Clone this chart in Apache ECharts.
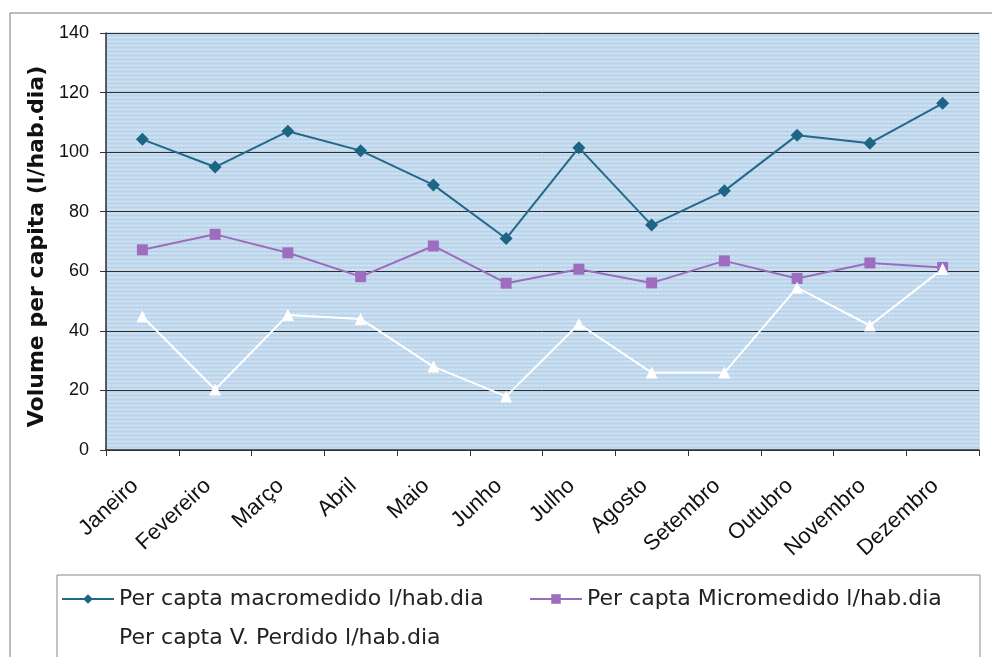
<!DOCTYPE html>
<html>
<head>
<meta charset="utf-8">
<script src="https://cdn.jsdelivr.net/npm/echarts@6/dist/echarts.min.js"></script>
<style>
html,body{margin:0;padding:0;background:#fff;}
#chart{width:992px;height:657px;}
</style>
</head>
<body>
<div id="chart"></div>
<script>
const months = ['Janeiro','Fevereiro','Março','Abril','Maio','Junho','Julho','Agosto','Setembro','Outubro','Novembro','Dezembro'];
const macromedido = [104.3, 95, 107, 100.5, 89, 71, 101.5, 75.5, 87, 105.7, 103, 116.4];
const micromedido = [67.2, 72.4, 66.2, 58.2, 68.5, 56, 60.7, 56.1, 63.5, 57.6, 62.8, 61.3];
const perdido = [44.8, 20.3, 45.3, 44, 28, 18, 42.3, 26, 26, 54.5, 41.8, 60.8];
const seriesNames = ['Per capta macromedido l/hab.dia','Per capta Micromedido l/hab.dia','Per capta V. Perdido l/hab.dia'];

// faint horizontal hatching for the plot background
const tile = document.createElement('canvas');
tile.width = 8; tile.height = 4;
const tc = tile.getContext('2d');
tc.fillStyle = '#c2d9ee';
tc.fillRect(0,0,8,4);
tc.fillStyle = '#d3e4f3';
tc.fillRect(0,1,3,1);
tc.fillRect(4,1,3,1);
tc.fillStyle = '#b8d2ea';
tc.fillRect(0,3,8,1);

const chart = echarts.init(document.getElementById('chart'), null, {renderer:'canvas'});
const font = '"Liberation Sans", Arial, sans-serif';
const wide = '"DejaVu Sans", sans-serif';
const legendText = {fontSize:22, color:'#222', fontFamily:wide};

chart.setOption({
  animation: false,
  textStyle: {fontFamily: font},
  graphic: [
    {type:'polyline', shape:{points:[[10,657],[10,13],[992,13]]}, style:{stroke:'#777', lineWidth:1, fill:null}},
    {type:'rect', shape:{x:57, y:575, width:923, height:100}, style:{stroke:'#888', lineWidth:1, fill:'#fff'}, z:-1}
  ],
  grid: {left:106, right:13, top:33, bottom:207, show:true,
         backgroundColor:{image:tile, repeat:'repeat'}, borderColor:'#a9c9e6', borderWidth:1},
  legend: [
    {data:[seriesNames[0]], left:56, top:583, itemWidth:52, itemHeight:12, itemGap:4, textStyle:legendText},
    {data:[seriesNames[1]], left:524, top:583, itemWidth:52, itemHeight:12, itemGap:4, textStyle:legendText},
    {data:[seriesNames[2]], left:56, top:622, itemWidth:52, itemHeight:12, itemGap:4, textStyle:legendText}
  ],
  xAxis: {
    type:'category', data:months, boundaryGap:true,
    axisLine:{show:true, lineStyle:{color:'#333', width:1.5}},
    axisTick:{show:true, length:6, lineStyle:{color:'#333'}},
    axisLabel:{rotate:43, fontSize:22, color:'#111', margin:26, padding:[0,10,0,0], interval:0, fontFamily:font},
    splitLine:{show:false}
  },
  yAxis: {
    type:'value', min:0, max:140, interval:20,
    name:'Volume per capita (l/hab.dia)', nameLocation:'middle', nameGap:55, nameRotate:90,
    nameTextStyle:{fontSize:22, fontWeight:'bold', color:'#111', fontFamily:wide, padding:[0,10,0,0]},
    axisLine:{show:true, lineStyle:{color:'#333', width:1.5}},
    axisTick:{show:true, length:6, lineStyle:{color:'#333'}},
    axisLabel:{fontSize:18, color:'#111', margin:17, fontFamily:font},
    splitLine:{show:true, lineStyle:{color:'#2e2e2e', width:1}}
  },
  series: [
    {name:seriesNames[0], type:'line', data:macromedido, symbol:'diamond', symbolSize:13,
     lineStyle:{color:'#23698a', width:2}, itemStyle:{color:'#1e6485'}},
    {name:seriesNames[1], type:'line', data:micromedido, symbol:'rect', symbolSize:11,
     lineStyle:{color:'#9c6cbc', width:2}, itemStyle:{color:'#9e6dc0'}},
    {name:seriesNames[2], type:'line', data:perdido, symbol:'triangle', symbolSize:12,
     lineStyle:{color:'#ffffff', width:2}, itemStyle:{color:'#ffffff'}}
  ]
});
</script>
</body>
</html>
